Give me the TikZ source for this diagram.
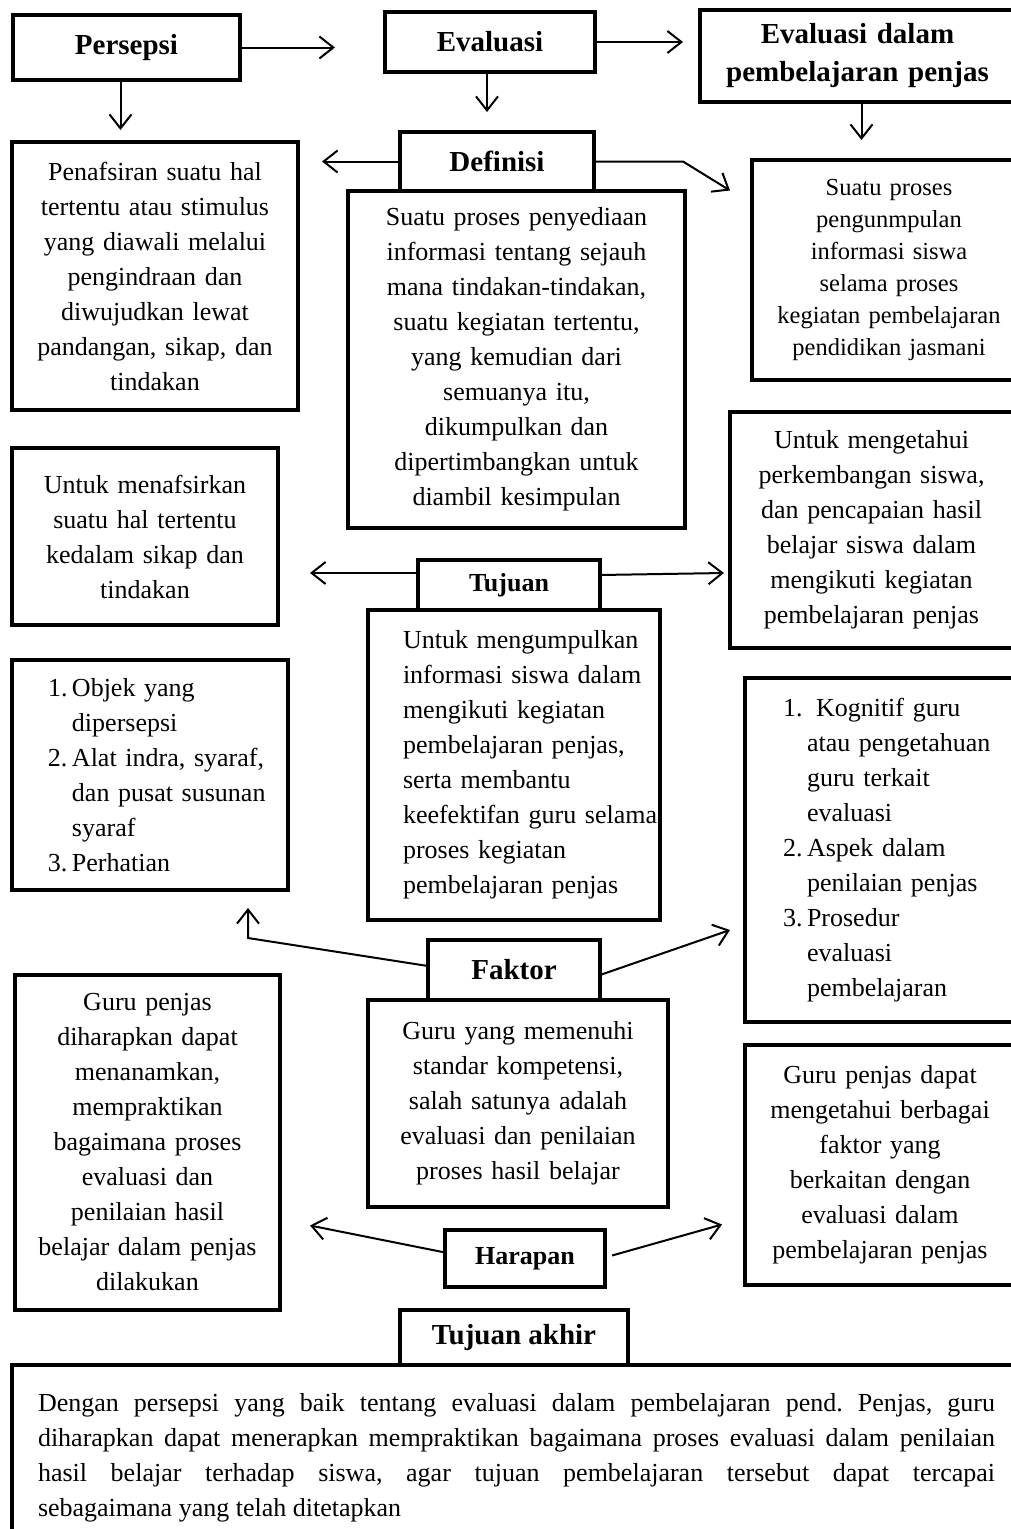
\documentclass[tikz,border=0pt]{standalone}
\usepackage{fontspec}
\setmainfont{Liberation Serif}
\usetikzlibrary{arrows.meta,positioning}
\newcommand\bodytxt{\fontsize{26}{35}\selectfont}
\newcommand\smalltxt{\fontsize{24.5}{32}\selectfont}
\newcommand\headtxt{\fontsize{29}{38}\selectfont\bfseries}
\newcommand\subhead{\fontsize{26}{30}\selectfont\bfseries}
\newcommand\numit[1]{\makebox[24pt][l]{#1}}
\frenchspacing

\begin{document}
\begin{tikzpicture}[x=1pt, y=-1pt,
	box/.style={draw, line width=4.5pt, outer sep=0pt, inner sep=0pt, align=center, font=\bodytxt},
	head/.style={box, font=\headtxt},
	subbox/.style={box, font=\subhead},
	arr/.style={-{Straight Barb[length=14pt,width=22pt]}, line width=2pt}]
	\useasboundingbox (0,0) rectangle (1010,1529);
	\node[head, minimum width=227pt, minimum height=65pt] (persepsi) at (126.5,47.5) {Persepsi};
	\node[head, minimum width=210pt, minimum height=60pt] (evaluasi) at (490,42) {Evaluasi};
	\node[head, text width=315pt, minimum height=92pt] (evalpenjas) at (857.5,56) {Evaluasi dalam\\pembelajaran penjas};
	\node[box, text width=286pt, minimum height=268pt] (penafsiran) at (155,276) {Penafsiran suatu hal\\tertentu atau stimulus\\yang diawali melalui\\pengindraan dan\\diwujudkan lewat\\pandangan, sikap, dan\\tindakan};
	\node[head, minimum width=194pt, minimum height=59pt] (defhead) at (497,161.5) {Definisi};
	\node[box, text width=337pt, minimum height=337pt, anchor=north] (defbody) at (516.5,191) {Suatu proses penyediaan\\informasi tentang sejauh\\mana tindakan-tindakan,\\suatu kegiatan tertentu,\\yang kemudian dari\\semuanya itu,\\dikumpulkan dan\\dipertimbangkan untuk\\diambil kesimpulan};
	\node[box, font=\smalltxt, text width=274pt, minimum height=220pt] (proses) at (889,270) {Suatu proses\\pengunmpulan\\informasi siswa\\selama proses\\kegiatan pembelajaran\\pendidikan jasmani};
	\node[box, text width=266pt, minimum height=177pt] (menafsirkan) at (145,536.5) {Untuk menafsirkan\\suatu hal tertentu\\kedalam sikap dan\\tindakan};
	\node[box, text width=283pt, minimum height=236pt] (mengetahui) at (871.5,530) {Untuk mengetahui\\perkembangan siswa,\\dan pencapaian hasil\\belajar siswa dalam\\mengikuti kegiatan\\pembelajaran penjas};
	\node[subbox, minimum width=182pt, minimum height=50pt] (tujhead) at (509,585) {Tujuan};
	\node[box, align=left, text width=292pt, minimum height=310pt, anchor=north] (tujbody) at (514,610) {\leftskip=35pt Untuk mengumpulkan\\informasi siswa dalam\\mengikuti kegiatan\\pembelajaran penjas,\\serta membantu\\keefektifan guru selama\\proses kegiatan\\pembelajaran penjas\par};
	\node[box, align=left, text width=276pt, minimum height=230pt] (faktorkiri) at (150,775) {\leftskip=36pt \numit{1.}Objek yang\\\numit{}dipersepsi\\\numit{2.}Alat indra, syaraf,\\\numit{}dan pusat susunan\\\numit{}syaraf\\\numit{3.}Perhatian\par};
	\node[box, align=left, text width=270pt, minimum height=344pt] (faktorkanan) at (880,850) {\leftskip=38pt \numit{1.}\hspace*{9pt}Kognitif guru\\\numit{}atau pengetahuan\\\numit{}guru terkait\\\numit{}evaluasi\\\numit{2.}Aspek dalam\\\numit{}penilaian penjas\\\numit{3.}Prosedur\\\numit{}evaluasi\\\numit{}pembelajaran\par};
	\node[head, minimum width=172pt, minimum height=60pt] (fakhead) at (514,970) {Faktor};
	\node[box, text width=300pt, minimum height=207pt, anchor=north] (fakbody) at (518,1000) {Guru yang memenuhi\\standar kompetensi,\\salah satunya adalah\\evaluasi dan penilaian\\proses hasil belajar};
	\node[box, text width=265pt, minimum height=335pt] (harkiri) at (147.5,1142.5) {Guru penjas\\diharapkan dapat\\menanamkan,\\mempraktikan\\bagaimana proses\\evaluasi dan\\penilaian hasil\\belajar dalam penjas\\dilakukan};
	\node[box, text width=270pt, minimum height=240pt] (harkanan) at (880,1165) {Guru penjas dapat\\mengetahui berbagai\\faktor yang\\berkaitan dengan\\evaluasi dalam\\pembelajaran penjas};
	\node[subbox, minimum width=160pt, minimum height=57pt] (harhead) at (525,1258.5) {Harapan};
	\node[head, minimum width=228pt, minimum height=55pt] (akhirhead) at (514,1337.5) {Tujuan akhir};
	\node[box, align=justify, text width=957pt, inner xsep=26pt, minimum height=186pt, anchor=north west] (akhirbody) at (12,1365) {\hyphenpenalty=10000 Dengan persepsi yang baik tentang evaluasi dalam pembelajaran pend. Penjas, guru\linebreak diharapkan dapat menerapkan mempraktikan bagaimana proses evaluasi dalam penilaian\linebreak hasil belajar terhadap siswa, agar tujuan pembelajaran tersebut dapat tercapai\linebreak sebagaimana yang telah ditetapkan};
	\coordinate (t1) at ([xshift=95pt]persepsi.east);
	\coordinate (t2) at ([xshift=88pt]evaluasi.east);
	\coordinate (t3) at ([yshift=-50pt]persepsi.south);
	\coordinate (t4) at ([yshift=-40pt]evaluasi.south);
	\coordinate (t5) at ([yshift=-38pt]evalpenjas.south);
	\coordinate (t6) at ([xshift=-78pt]defhead.west);
	\coordinate (dbend) at ([xshift=89pt]defhead.east);
	\coordinate (t7) at ([shift={(47pt,-29pt)}]dbend);
	\coordinate (t8) at ([shift={(-108pt,12pt)}]tujhead.west);
	\coordinate (t9) at ([shift={(124pt,12pt)}]tujhead.east);
	\coordinate (fbend) at ([shift={(-180pt,32pt)}]fakhead.west);
	\coordinate (t10) at ([yshift=30pt]fbend);
	\coordinate (t11) at ([shift={(130pt,40pt)}]fakhead.east);
	\coordinate (t12) at ([shift={(-135pt,33pt)}]harhead.west);
	\coordinate (t13) at ([shift={(117pt,34pt)}]harhead.east);
	\draw[arr] (persepsi.east) -- (t1);
	\draw[arr] (evaluasi.east) -- (t2);
	\draw[arr] ([xshift=-6pt]persepsi.south) -- ([xshift=-6pt]t3);
	\draw[arr] ([xshift=-3pt]evaluasi.south) -- ([xshift=-3pt]t4);
	\draw[arr] ([xshift=4pt]evalpenjas.south) -- ([xshift=4pt]t5);
	\draw[arr] (defhead.west) -- (t6);
	\draw[arr] (defhead.east) -- (dbend) -- (t7);
	\draw[arr] ([yshift=12pt]tujhead.west) -- (t8);
	\draw[arr] ([yshift=10pt]tujhead.east) -- (t9);
	\draw[arr] ([yshift=4pt]fakhead.west) -- (fbend) -- (t10);
	\draw[arr] ([yshift=-5pt]fakhead.east) -- (t11);
	\draw[arr] ([yshift=6pt]harhead.west) -- (t12);
	\draw[arr] ([shift={(7pt,3pt)}]harhead.east) -- (t13);
\end{tikzpicture}
\end{document}
